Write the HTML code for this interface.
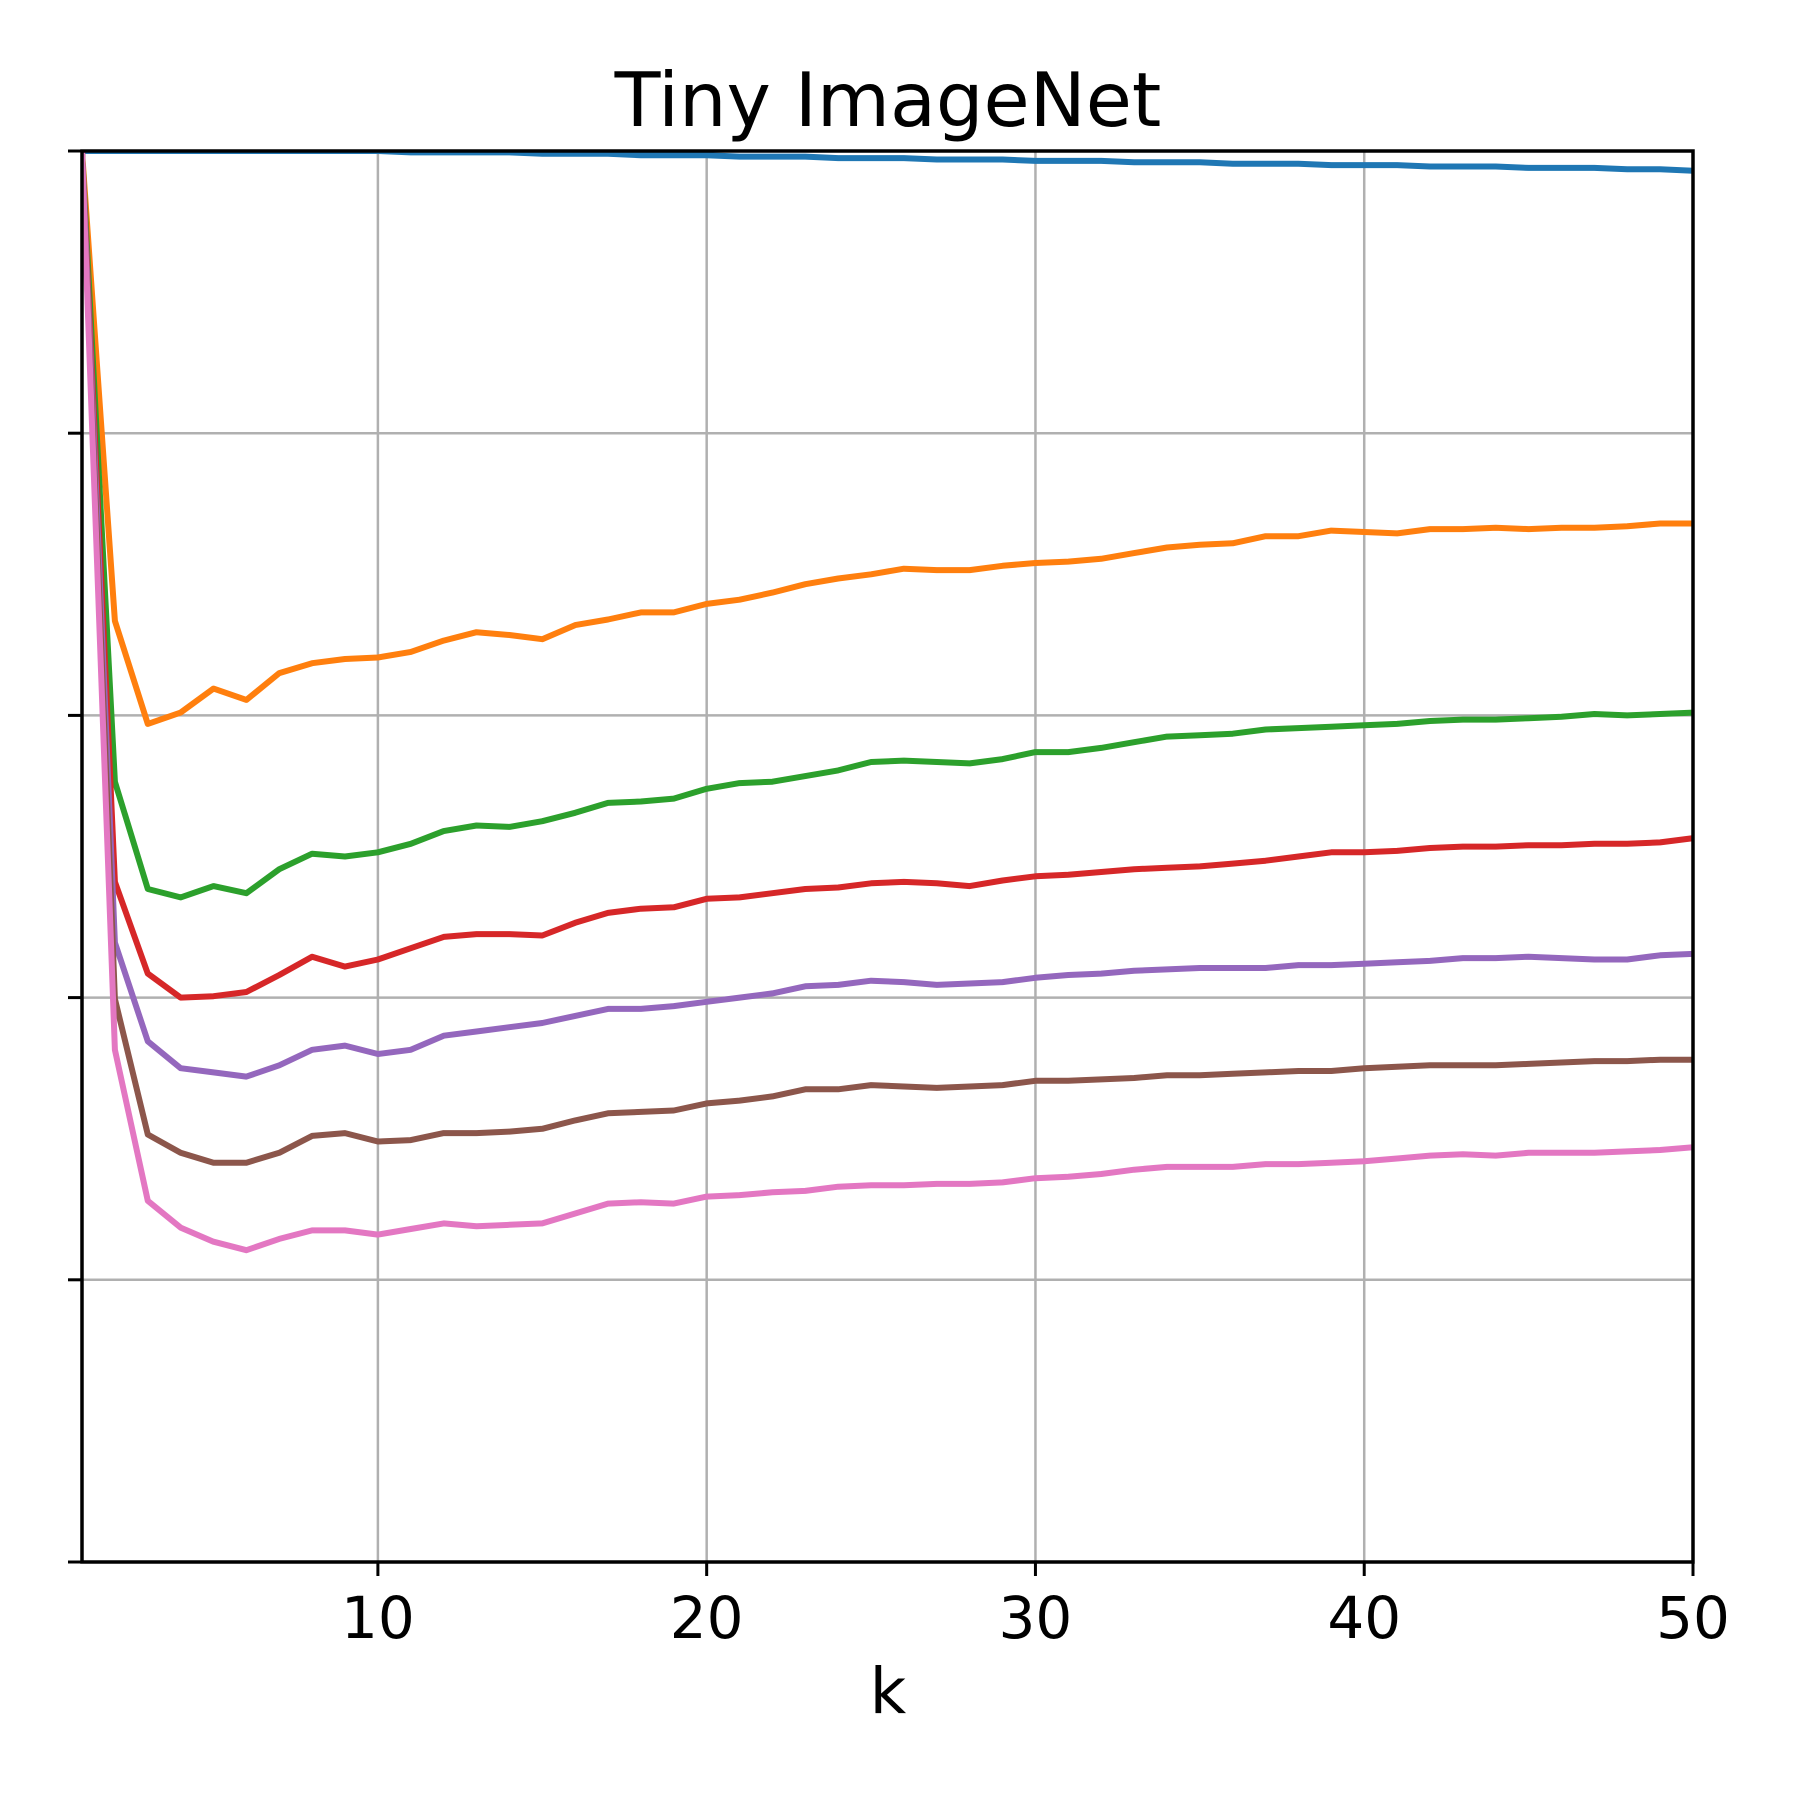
<!DOCTYPE html>
<html><head><meta charset="utf-8"><style>
html,body{margin:0;padding:0;background:#fff;}
svg{display:block;font-family:"DejaVu Sans","Liberation Sans",sans-serif;}
</style></head><body>
<svg id="chart" width="1800" height="1800" viewBox="0 0 1800 1800">
<defs><clipPath id="clip"><rect x="82" y="151" width="1611" height="1411"/></clipPath></defs>
<text x="888" y="126" text-anchor="middle" font-size="75">Tiny ImageNet</text>
<g id="grid"></g>
<g id="series" clip-path="url(#clip)"></g>
<rect x="82" y="151" width="1611" height="1411" fill="none" stroke="#000" stroke-width="3.5"/>
<g id="ticks"></g>
<text x="888" y="1713" text-anchor="middle" font-size="63">k</text>
</svg>
<script>
const xTicks = [10, 20, 30, 40, 50];
const xTickLabels = ["10", "20", "30", "40", "50"];
const yTicks = [0, 0.2, 0.4, 0.6, 0.8, 1.0];
const seriesColors = ["#1f77b4", "#ff7f0e", "#2ca02c", "#d62728", "#9467bd", "#8c564b", "#e377c2"];
const seriesBlue = [1,1,1,1,1,1,1,1,1,1,.999,.999,.999,.999,.998,.998,.998,.997,.997,.997,.996,.996,.996,.995,.995,.995,.994,.994,.994,.993,.993,.993,.992,.992,.992,.991,.991,.991,.990,.990,.990,.989,.989,.989,.988,.988,.988,.987,.987,.986];
const seriesOrange = [1,.667,.594,.602,.619,.611,.630,.637,.640,.641,.645,.653,.659,.657,.654,.664,.668,.673,.673,.679,.682,.687,.693,.697,.700,.704,.703,.703,.706,.708,.709,.711,.715,.719,.721,.722,.727,.727,.731,.730,.729,.732,.732,.733,.732,.733,.733,.734,.736,.736];
const seriesGreen = [1,.553,.477,.471,.479,.474,.491,.502,.500,.503,.509,.518,.522,.521,.525,.531,.538,.539,.541,.548,.552,.553,.557,.561,.567,.568,.567,.566,.569,.574,.574,.577,.581,.585,.586,.587,.590,.591,.592,.593,.594,.596,.597,.597,.598,.599,.601,.600,.601,.602];
const seriesRed = [1,.482,.417,.400,.401,.404,.416,.429,.422,.427,.435,.443,.445,.445,.444,.453,.460,.463,.464,.470,.471,.474,.477,.478,.481,.482,.481,.479,.483,.486,.487,.489,.491,.492,.493,.495,.497,.500,.503,.503,.504,.506,.507,.507,.508,.508,.509,.509,.510,.513];
const seriesPurple = [1,.439,.369,.350,.347,.344,.352,.363,.366,.360,.363,.373,.376,.379,.382,.387,.392,.392,.394,.397,.400,.403,.408,.409,.412,.411,.409,.410,.411,.414,.416,.417,.419,.420,.421,.421,.421,.423,.423,.424,.425,.426,.428,.428,.429,.428,.427,.427,.430,.431];
const seriesBrown = [1,.399,.303,.290,.283,.283,.290,.302,.304,.298,.299,.304,.304,.305,.307,.313,.318,.319,.320,.325,.327,.330,.335,.335,.338,.337,.336,.337,.338,.341,.341,.342,.343,.345,.345,.346,.347,.348,.348,.350,.351,.352,.352,.352,.353,.354,.355,.355,.356,.356];
const seriesPink = [1,.363,.256,.237,.227,.221,.229,.235,.235,.232,.236,.240,.238,.239,.240,.247,.254,.255,.254,.259,.260,.262,.263,.266,.267,.267,.268,.268,.269,.272,.273,.275,.278,.280,.280,.280,.282,.282,.283,.284,.286,.288,.289,.288,.290,.290,.290,.291,.292,.294];

const NS = "http://www.w3.org/2000/svg";
const L = 82, R = 1693, T = 151, B = 1562;
const xScale = k => L + (k - 1) / 49 * (R - L);
const yScale = v => B - v * (B - T);
const grid = document.getElementById("grid");
const ticks = document.getElementById("ticks");
const ser = document.getElementById("series");
function mk(tag, attrs){ const e = document.createElementNS(NS, tag); for (const k in attrs) e.setAttribute(k, attrs[k]); return e; }

xTicks.forEach((t, i) => {
  const x = xScale(t);
  const g = mk("line", {x1:x, x2:x, y1:T, y2:B, stroke:"#b0b0b0", "stroke-width":2.5});
  
  
  grid.appendChild(g);
  const tk = mk("line", {x1:x, x2:x, y1:B, y2:B+14, stroke:"#000", "stroke-width":3});
  
  
  ticks.appendChild(tk);
  const lb = mk("text", {x:x, y:1638, "text-anchor":"middle", "font-size":"58"});
  lb.textContent = xTickLabels[i];
  
  
  ticks.appendChild(lb);
});
yTicks.forEach(t => {
  const y = yScale(t);
  const g = mk("line", {x1:L, x2:R, y1:y, y2:y, stroke:"#b0b0b0", "stroke-width":2.5});
  
  
  grid.appendChild(g);
  const tk = mk("line", {x1:L-14, x2:L, y1:y, y2:y, stroke:"#000", "stroke-width":3});
  
  
  ticks.appendChild(tk);
});
const allSeries = [seriesBlue, seriesOrange, seriesGreen, seriesRed, seriesPurple, seriesBrown, seriesPink];
const seriesNames = ["series-blue", "series-orange", "series-green", "series-red", "series-purple", "series-brown", "series-pink"];
allSeries.forEach((vals, si) => {
  const pts = vals.map((v, i) => xScale(i + 1).toFixed(1) + "," + yScale(v).toFixed(1)).join(" ");
  const p = mk("polyline", {points:pts, fill:"none", stroke:seriesColors[si], "stroke-width":6, "stroke-linejoin":"round", "stroke-linecap":"square"});
  
  
  ser.appendChild(p);
});
</script>
</body></html>
